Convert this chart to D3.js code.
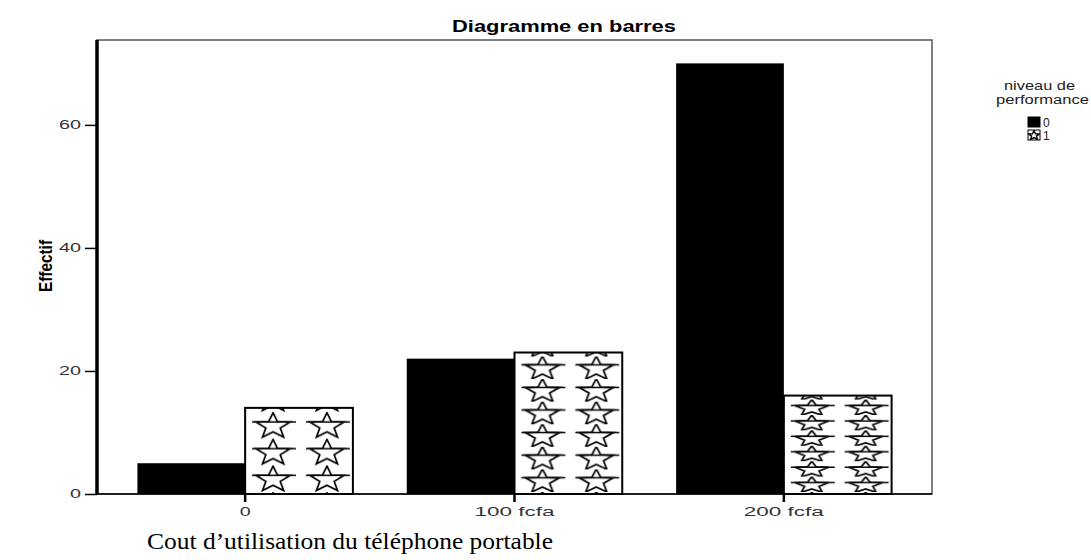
<!DOCTYPE html>
<html>
<head>
<meta charset="utf-8">
<script src="https://cdn.jsdelivr.net/npm/d3@7"></script>
<style>
  body { margin: 0; background: #fff; }
</style>
</head>
<body>
<div id="chart"></div>
<script>
"use strict";

// data
var categories = ["0", "100 fcfa", "200 fcfa"];
var levels = ["0", "1"];
var level0 = [5, 22, 70];
var level1 = [14, 23, 16];
var yTicks = [0, 20, 40, 60];

var starRows = [3, 6, 6];   // how many rows of stars each hatched bar shows
var sans = "'Liberation Sans', Arial, sans-serif";
var serif = "'Liberation Serif', 'Times New Roman', serif";

var W = 1091, H = 560;
var margin = { top: 40, right: 159, bottom: 66, left: 97 },
    w = W - margin.left - margin.right,
    h = H - margin.top - margin.bottom;

var svg = d3.select("#chart").append("svg")
    .attr("width", W).attr("height", H)
    .style("font-family", sans);

svg.append("rect").attr("width", W).attr("height", H).attr("fill", "#fff");

var defs = svg.append("defs");

var x0 = d3.scaleBand().domain(categories).range([0, w])
    .paddingInner(0.2).paddingOuter(0.15);
var x1 = d3.scaleBand().domain(levels).range([0, x0.bandwidth()]);
var y = d3.scaleLinear().domain([0, 73.8]).range([h, 0]);

var rows = categories.map(function(c, i) {
  return { cat: c, i: i, v0: level0[i], v1: level1[i] };
});

// star outline
function starPath(cx, cy, rw, rh) {
  var pts = [];
  for (var k = 0; k < 10; k++) {
    var a = -Math.PI / 2 + k * Math.PI / 5;
    var r = (k % 2 === 0) ? 1 : 0.42;
    pts.push([cx + Math.cos(a) * r * rw, cy + Math.sin(a) * r * rh]);
  }
  return "M" + pts.map(function(p) { return p[0].toFixed(2) + "," + p[1].toFixed(2); }).join("L") + "Z";
}

// one pattern per hatched bar, anchored to that bar (user space of its group)
rows.forEach(function(d) {
  var top = y(d.v1);
  var bh = y(0) - y(d.v1);
  var colW = x1.bandwidth() / 2;
  var rowH = (bh - 6) / starRows[d.i];
  var p = defs.append("pattern")
      .attr("id", "stars" + d.i)
      .attr("patternUnits", "userSpaceOnUse")
      .attr("x", x1("1")).attr("y", top + 4)
      .attr("width", colW).attr("height", rowH);
  var rw = 18, rh = Math.min(rowH * 0.56, 13.5);
  var cx = colW / 2 + 1, cy = rowH / 2 + 1;
  p.append("rect").attr("width", colW).attr("height", rowH).attr("fill", "#fff");
  p.append("path")
      .attr("d", starPath(cx, cy, rw, rh))
      .attr("fill", "#fff").attr("stroke", "#000").attr("stroke-width", 1.7);
  p.append("line")
      .attr("x1", cx - rw - 3).attr("x2", cx + rw + 5)
      .attr("y1", cy - rh * 0.31).attr("y2", cy - rh * 0.31)
      .attr("stroke", "#000").attr("stroke-width", 1.5);
});

var g = svg.append("g")
    .attr("transform", "translate(" + margin.left + "," + margin.top + ")");

// frame
g.append("rect")
    .attr("x", 0).attr("y", 0).attr("width", w).attr("height", h)
    .attr("fill", "none").attr("stroke", "#555").attr("stroke-width", 1.5);

// bars
var grp = g.selectAll(".grp").data(rows).join("g")
    .attr("class", "grp")
    .attr("transform", function(d) { return "translate(" + x0(d.cat) + ",0)"; });

grp.append("rect")
    .attr("x", x1("0"))
    .attr("y", function(d) { return y(d.v0); })
    .attr("width", x1.bandwidth())
    .attr("height", function(d) { return y(0) - y(d.v0); })
    .attr("fill", "#000");

grp.append("rect")
    .attr("x", x1("1"))
    .attr("y", function(d) { return y(d.v1); })
    .attr("width", x1.bandwidth())
    .attr("height", function(d) { return y(0) - y(d.v1); })
    .attr("fill", function(d) { return "url(#stars" + d.i + ")"; })
    .attr("stroke", "#000").attr("stroke-width", 2);

// y axis
var yAx = g.append("g")
    .call(d3.axisLeft(y).tickValues(yTicks).tickSize(12).tickPadding(4));
yAx.select(".domain").remove();
yAx.selectAll(".tick line").attr("stroke", "#000").attr("stroke-width", 1.5);
yAx.selectAll(".tick text")
    .style("font-family", sans).attr("font-size", 12).attr("fill", "#333")
    .attr("textLength", function(d) { return d >= 10 ? 22 : 11; })
    .attr("lengthAdjust", "spacingAndGlyphs");
g.append("line").attr("x1", 0).attr("x2", 0).attr("y1", 0).attr("y2", h)
    .attr("stroke", "#000").attr("stroke-width", 3.5);

// x axis
var xAx = g.append("g")
    .attr("transform", "translate(0," + h + ")")
    .call(d3.axisBottom(x0).tickSize(8).tickPadding(5));
xAx.select(".domain").remove();
xAx.selectAll(".tick line").attr("stroke", "#000").attr("stroke-width", 2.5);
xAx.selectAll(".tick text")
    .style("font-family", sans).attr("font-size", 12).attr("fill", "#333")
    .attr("textLength", function(d) { return d.length > 2 ? 80 : 11; })
    .attr("lengthAdjust", "spacingAndGlyphs");
g.append("line").attr("x1", 0).attr("x2", w).attr("y1", h).attr("y2", h)
    .attr("stroke", "#000").attr("stroke-width", 1.5);

// title
svg.append("text")
    .attr("x", 452).attr("y", 32)
    .attr("textLength", 224).attr("lengthAdjust", "spacingAndGlyphs")
    .attr("font-size", 17).attr("font-weight", "bold").attr("fill", "#000")
    .text("Diagramme en barres");

// y label
svg.append("text")
    .attr("transform", "translate(52,292) rotate(-90)")
    .attr("textLength", 52).attr("lengthAdjust", "spacingAndGlyphs")
    .attr("font-size", 18).attr("font-weight", "bold").attr("fill", "#000")
    .text("Effectif");

// x label
svg.append("text")
    .attr("x", 147).attr("y", 549)
    .attr("textLength", 406).attr("lengthAdjust", "spacingAndGlyphs")
    .style("font-family", serif)
    .attr("font-size", 24).attr("fill", "#000")
    .text("Cout d\u2019utilisation du t\u00e9l\u00e9phone portable");

// legend
var lg = svg.append("g");
lg.append("text").attr("x", 1004).attr("y", 90)
    .attr("textLength", 71).attr("lengthAdjust", "spacingAndGlyphs")
    .attr("font-size", 12).attr("fill", "#222").text("niveau de");
lg.append("text").attr("x", 996).attr("y", 104)
    .attr("textLength", 93).attr("lengthAdjust", "spacingAndGlyphs")
    .attr("font-size", 12).attr("fill", "#222").text("performance");

defs.append("pattern")
    .attr("id", "starsLegend")
    .attr("patternUnits", "userSpaceOnUse")
    .attr("x", 0).attr("y", 0).attr("width", 12).attr("height", 10)
    .call(function(p) {
      p.append("rect").attr("width", 12).attr("height", 10).attr("fill", "#fff");
      p.append("path").attr("d", starPath(6, 5.5, 6, 5))
        .attr("fill", "#fff").attr("stroke", "#000").attr("stroke-width", 1.4);
    });

var items = lg.selectAll(".item").data(levels).join("g")
    .attr("class", "item")
    .attr("transform", function(d, i) { return "translate(1028," + (117 + i * 13) + ")"; });
items.append("rect")
    .attr("width", 12).attr("height", 10)
    .attr("fill", function(d, i) { return i === 0 ? "#000" : "url(#starsLegend)"; })
    .attr("stroke", "#000").attr("stroke-width", 1);
items.append("text")
    .attr("x", 15).attr("y", 9.5)
    .attr("font-size", 12).attr("fill", "#222")
    .text(function(d) { return d; });
</script>
</body>
</html>
